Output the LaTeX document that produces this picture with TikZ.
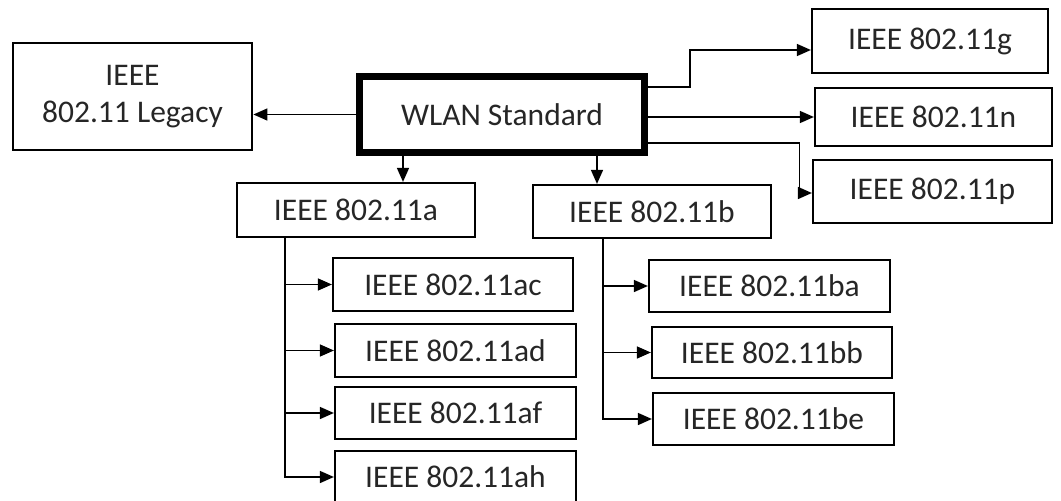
\documentclass[tikz,border=0pt]{standalone}
\usepackage{fontspec}
\setmainfont{Carlito}
\usetikzlibrary{arrows.meta}

\begin{document}
\begin{tikzpicture}[x = 1pt, y = -1pt,
	box/.style = {draw, line width = 2.2pt, inner sep = 0pt, text = black!85, font = \fontsize{31.5}{37}\selectfont},
	arr/.style = {line width = 1.5pt, -{Triangle[length = 14pt, width = 12pt]}}]
	 \useasboundingbox (0, 0) rectangle (1061, 501);

	 % top row
	 \node[box, line width = 7pt, minimum width = 285, minimum height = 76] (wlan) at (502, 114.5) {WLAN Standard};
	 \node[box, line width = 2.8pt, align = center, minimum width = 239, minimum height = 107] (legacy) at (132.5, 96.5) {IEEE\\802.11 Legacy};
	 \node[box, minimum width = 236, minimum height = 64] (g) at (930, 41) {IEEE 802.11g};
	 \node[box, minimum width = 237, minimum height = 58] (n) at (933.5, 117) {IEEE 802.11n};
	 \node[box, minimum width = 239, minimum height = 63] (p) at (932.5, 191.5) {IEEE 802.11p};
	 \node[box, minimum width = 238, minimum height = 54] (a) at (356, 210) {IEEE 802.11a};
	 \node[box, minimum width = 238, minimum height = 53] (b) at (652, 211.5) {IEEE 802.11b};

	 % children of 802.11a
	 \node[box, minimum width = 240, minimum height = 53] (ac) at (453, 284.5) {IEEE 802.11ac};
	 \node[box, minimum width = 241, minimum height = 53] (ad) at (455.5, 350.5) {IEEE 802.11ad};
	 \node[box, minimum width = 241, minimum height = 52] (af) at (455.5, 413) {IEEE 802.11af};
	 \node[box, minimum width = 241, minimum height = 52] (ah) at (455.5, 477) {IEEE 802.11ah};

	 % children of 802.11b
	 \node[box, minimum width = 241, minimum height = 52] (ba) at (769.5, 286) {IEEE 802.11ba};
	 \node[box, minimum width = 240, minimum height = 51] (bb) at (772, 352.5) {IEEE 802.11bb};
	 \node[box, minimum width = 241, minimum height = 52] (be) at (773.5, 419) {IEEE 802.11be};

	 % connectors
	 \draw[arr] (wlan.west) -- (legacy.east |- wlan.west);
	 \draw[arr] ([yshift = 27.5pt]wlan.east) -- ++(42, 0) |- ([yshift = -9pt]g.west);
	 \draw[arr] (wlan.east |- n.west) -- (n.west);
	 \draw[arr] ([yshift = -28.5pt]wlan.east) -- ++(151.5, 0) |- ([yshift = -1.5pt]p.west);
	 \draw[arr] ([xshift = -99pt]wlan.south) -- ([xshift = -99pt]wlan.south |- a.north);
	 \draw[arr] ([xshift = 95pt]wlan.south) -- ([xshift = 95pt]wlan.south |- b.north);

	 \coordinate (atrunk) at ([xshift = -71pt]a.south);
	 \coordinate (btrunk) at ([xshift = -49pt]b.south);
	 \draw[arr] (atrunk) |- (ah.west);
	 \foreach \c in {ac, ad, af}
	 \draw[arr] (atrunk |- \c.west) -- (\c.west);
	 \draw[arr] (btrunk) |- (be.west);
	 \foreach \c in {ba, bb}
	 \draw[arr] (btrunk |- \c.west) -- (\c.west);
\end{tikzpicture}
\end{document}
